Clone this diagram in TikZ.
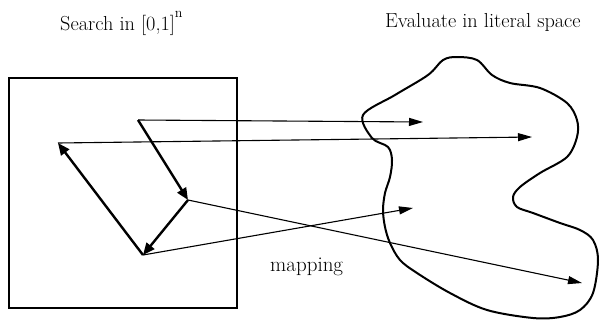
\documentclass[tikz,border=0pt]{standalone}
\usetikzlibrary{arrows.meta}
\begin{document}
\begin{tikzpicture}[x=1pt,y=-1pt,
  thickarrow/.style={line width=2.4pt,-{Triangle[length=12pt,width=10pt]}},
  thinarrow/.style={line width=1.1pt,-{Triangle[length=14pt,width=8pt]}},
  lbl/.style={font=\fontsize{20.3}{24}\selectfont,inner sep=0pt,anchor=base west}]
\useasboundingbox (0,0) rectangle (600,322);
% titles
\node[lbl] (t1) at (60,30) {Search in [0,1]\raisebox{0.6em}{\fontsize{14}{16}\selectfont n}};
\node[lbl] (t2) at (385,27) {Evaluate in literal space};
\node[lbl,font=\fontsize{21}{24}\selectfont] (t3) at (270,271) {mapping};
% search box
\node[draw,line width=2pt,minimum width=228pt,minimum height=230pt,inner sep=0pt] (box) at (123,193) {};
% points
\coordinate (p1) at (138,120);
\coordinate (p2) at (188,200);
\coordinate (p3) at (143,255);
\coordinate (p4) at (58,143);
\coordinate (q1) at (423,122);
\coordinate (q2) at (582,283);
\coordinate (q3) at (413,208);
\coordinate (q4) at (532,137);
% blob
\draw[line width=2pt] plot[smooth cycle,tension=0.55] coordinates {
 (363,115) (372,138) (388,147) (392,160) (390,177) (385,193) (383,210) (385,227)
 (390,243) (400,260) (417,273) (450,293) (487,310) (533,318) (560,317) (580,310)
 (593,293) (598,260) (593,240) (580,230) (560,223) (533,213) (517,207) (513,197)
 (520,187) (540,173) (567,157) (577,137) (577,120) (567,103) (540,88) (510,83)
 (492,75) (477,60) (457,57) (443,60) (428,75) (395,95)};
% search path
\draw[thickarrow] (p1) -- (p2);
\draw[thickarrow] (p2) -- (p3);
\draw[thickarrow] (p3) -- (p4);
% mapping
\draw[thinarrow] (p1) -- (q1);
\draw[thinarrow] (p2) -- (q2);
\draw[thinarrow] (p3) -- (q3);
\draw[thinarrow] (p4) -- (q4);
\end{tikzpicture}
\end{document}
